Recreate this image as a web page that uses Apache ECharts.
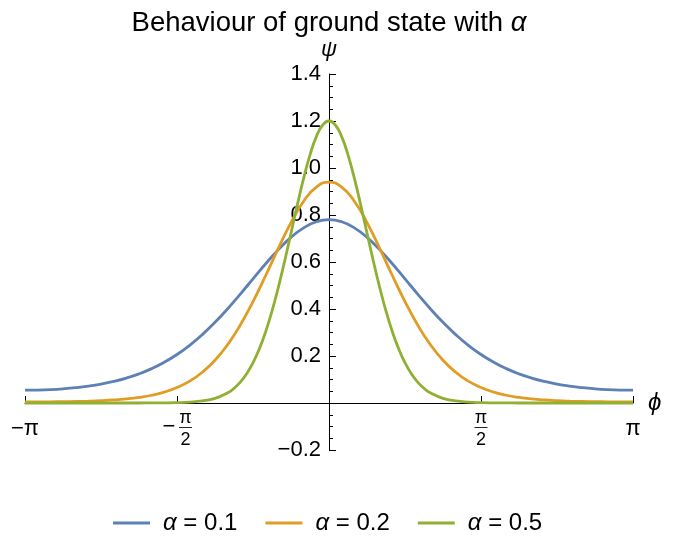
<!DOCTYPE html>
<html><head><meta charset="utf-8">
<script src="https://cdn.jsdelivr.net/npm/echarts@6/dist/echarts.min.js"></script>
<style>html,body{margin:0;padding:0;background:#fff}#c{width:674px;height:536px}</style>
</head><body><div id="c"></div>
<script>
const FONT = '"Liberation Sans", Arial, sans-serif';

// phi samples (radians) for alpha = 0.1 and 0.2
const phi = [-3.1416, -3.0107, -2.8798, -2.7489, -2.6180, -2.4871, -2.3562, -2.2253, -2.0944, -1.9635,
  -1.8326, -1.7017, -1.5708, -1.4399, -1.3090, -1.1781, -1.0472, -0.9163, -0.7854, -0.6545,
  -0.5236, -0.3927, -0.2618, -0.1309, 0, 0.1309, 0.2618, 0.3927, 0.5236, 0.6545,
  0.7854, 0.9163, 1.0472, 1.1781, 1.3090, 1.4399, 1.5708, 1.7017, 1.8326, 1.9635,
  2.0944, 2.2253, 2.3562, 2.4871, 2.6180, 2.7489, 2.8798, 3.0107, 3.1416];

const psiAlpha01 = [0.0546, 0.0552, 0.0571, 0.0604, 0.0652, 0.0718, 0.0805, 0.0918, 0.1061, 0.1240,
  0.1462, 0.1734, 0.2063, 0.2454, 0.2911, 0.3432, 0.4011, 0.4636, 0.5283, 0.5926,
  0.6527, 0.7049, 0.7454, 0.7712, 0.7800, 0.7712, 0.7454, 0.7049, 0.6527, 0.5926,
  0.5283, 0.4636, 0.4011, 0.3432, 0.2911, 0.2454, 0.2063, 0.1734, 0.1462, 0.1240,
  0.1061, 0.0918, 0.0805, 0.0718, 0.0652, 0.0604, 0.0571, 0.0552, 0.0546];

const psiAlpha02 = [0.0046, 0.0047, 0.0050, 0.0056, 0.0066, 0.0080, 0.0100, 0.0130, 0.0174, 0.0238,
  0.0330, 0.0465, 0.0658, 0.0930, 0.1309, 0.1820, 0.2486, 0.3320, 0.4313, 0.5425,
  0.6582, 0.7677, 0.8586, 0.9188, 0.9400, 0.9188, 0.8586, 0.7677, 0.6582, 0.5425,
  0.4313, 0.3320, 0.2486, 0.1820, 0.1309, 0.0930, 0.0658, 0.0465, 0.0330, 0.0238,
  0.0174, 0.0130, 0.0100, 0.0080, 0.0066, 0.0056, 0.0050, 0.0047, 0.0046];

// finer phi samples near the narrow alpha = 0.5 peak
const phiAlpha05 = [-3.1416, -3.0107, -2.8798, -2.7489, -2.6180, -2.4871, -2.3562, -2.2253, -2.0944, -1.9635,
  -1.8326, -1.7017, -1.5708, -1.4399, -1.3090, -1.1781, -1.0472, -0.9818, -0.9163, -0.8509,
  -0.7854, -0.7199, -0.6545, -0.5890, -0.5236, -0.4581, -0.3927, -0.3272, -0.2618, -0.1963,
  -0.1309, -0.0654, 0, 0.0654, 0.1309, 0.1963, 0.2618, 0.3272, 0.3927, 0.4581,
  0.5236, 0.5890, 0.6545, 0.7199, 0.7854, 0.8509, 0.9163, 0.9818, 1.0472, 1.1781,
  1.3090, 1.4399, 1.5708, 1.7017, 1.8326, 1.9635, 2.0944, 2.2253, 2.3562, 2.4871,
  2.6180, 2.7489, 2.8798, 3.0107, 3.1416];

const psiAlpha05 = [0.0000, 0.0000, 0.0000, 0.0000, 0.0000, 0.0000, 0.0000, 0.0000, 0.0000, 0.0001,
  0.0003, 0.0007, 0.0016, 0.0037, 0.0087, 0.0198, 0.0432, 0.0625, 0.0890, 0.1246,
  0.1711, 0.2304, 0.3036, 0.3913, 0.4924, 0.6044, 0.7233, 0.8432, 0.9567, 1.0561,
  1.1336, 1.1830, 1.2000, 1.1830, 1.1336, 1.0561, 0.9567, 0.8432, 0.7233, 0.6044,
  0.4924, 0.3913, 0.3036, 0.2304, 0.1711, 0.1246, 0.0890, 0.0625, 0.0432, 0.0198,
  0.0087, 0.0037, 0.0016, 0.0007, 0.0003, 0.0001, 0.0000, 0.0000, 0.0000, 0.0000,
  0.0000, 0.0000, 0.0000, 0.0000, 0.0000];

const seriesNames = ['α = 0.1', 'α = 0.2', 'α = 0.5'];
const colors = ['#5E81B5', '#E19C24', '#8FB032'];

const xTickValues = [-Math.PI, -Math.PI / 2, Math.PI / 2, Math.PI];
const xTickLabels = ['{big|−π}', '{sp| }{n|π}\n{m|−}{g| }{bar|—}\n{sp| }{d|2}', '{n|π}\n{bar|—}\n{d|2}', '{big|π}'];

const yMin = -0.2, yMax = 1.4, yStep = 0.2;

const chart = echarts.init(document.getElementById('c'), null, {renderer: 'canvas'});

const pairs = (xs, ys) => xs.map((x, i) => [x, ys[i]]);

chart.setOption({
  backgroundColor: '#fff',
  animation: false,
  title: {
    text: 'Behaviour of ground state with {a|α}',
    left: 324, textAlign: 'center', top: 4,
    textStyle: {
      fontFamily: FONT, fontSize: 27.5, fontWeight: 'normal', color: '#000',
      rich: {a: {fontFamily: FONT, fontSize: 27.5, fontStyle: 'italic', color: '#000'}}
    }
  },
  legend: {
    left: 113, top: 511, padding: 0,
    itemWidth: 37, itemHeight: 3, itemGap: 28,
    icon: 'rect',
    data: seriesNames,
    formatter: name => '{i|α}' + name.slice(1),
    textStyle: {
      fontFamily: FONT, fontSize: 24, color: '#000', padding: [0, 0, 0, 8],
      rich: {i: {fontFamily: FONT, fontSize: 24, fontStyle: 'italic', color: '#000'}}
    }
  },
  grid: {left: 25, right: 41, top: 74, bottom: 86, containLabel: false, outerBoundsMode: 'none'},
  xAxis: {
    type: 'value', min: -Math.PI, max: Math.PI,
    name: 'ϕ', nameLocation: 'end', nameGap: 15,
    nameTextStyle: {fontFamily: FONT, fontSize: 24, fontStyle: 'italic', color: '#000', padding: [6, 0, 0, 0]},
    axisLine: {onZero: false, lineStyle: {color: '#000', width: 1}},
    axisTick: {show: true, inside: true, length: 7, customValues: xTickValues, lineStyle: {color: '#000'}},
    axisLabel: {
      show: true, margin: 8, customValues: xTickValues,
      formatter: v => {
        let best = 0;
        xTickValues.forEach((t, i) => { if (Math.abs(t - v) < Math.abs(xTickValues[best] - v)) best = i; });
        return xTickLabels[best];
      },
      color: '#000',
      rich: {
        big: {fontFamily: FONT, fontSize: 22, lineHeight: 36, color: '#000'},
        n: {fontFamily: FONT, fontSize: 18, width: 12, lineHeight: 14, color: '#000'},
        d: {fontFamily: FONT, fontSize: 18, width: 12, lineHeight: 22, color: '#000'},
        sp: {fontFamily: FONT, fontSize: 8, width: 17, lineHeight: 14},
        m: {fontFamily: FONT, fontSize: 22, width: 13, lineHeight: 4, color: '#000'},
        g: {fontFamily: FONT, fontSize: 4, width: 4, lineHeight: 4},
        bar: {fontFamily: FONT, fontSize: 13, width: 12, lineHeight: 4, color: '#000'}
      }
    },
    splitLine: {show: false}
  },
  yAxis: {
    type: 'value', min: yMin, max: yMax, interval: yStep,
    name: 'ψ', nameLocation: 'end', nameGap: 13,
    nameTextStyle: {fontFamily: FONT, fontSize: 22, fontStyle: 'italic', color: '#000', align: 'center'},
    axisLine: {show: true, onZero: false, lineStyle: {color: '#000', width: 1}},
    axisTick: {show: true, inside: true, length: 7, lineStyle: {color: '#000'}},
    minorTick: {show: true, splitNumber: 4, length: 4, lineStyle: {color: '#000'}},
    axisLabel: {
      margin: 8, fontFamily: FONT, fontSize: 22, color: '#000',
      formatter: v => Math.abs(v) < 1e-9 ? '' : (v < 0 ? '−' : '') + Math.abs(v).toFixed(1)
    },
    splitLine: {show: false}
  },
  series: [
    {name: seriesNames[0], type: 'line', data: pairs(phi, psiAlpha01), showSymbol: false, smooth: true,
     lineStyle: {color: colors[0], width: 2.8}, itemStyle: {color: colors[0]}},
    {name: seriesNames[1], type: 'line', data: pairs(phi, psiAlpha02), showSymbol: false, smooth: true,
     lineStyle: {color: colors[1], width: 2.8}, itemStyle: {color: colors[1]}},
    {name: seriesNames[2], type: 'line', data: pairs(phiAlpha05, psiAlpha05), showSymbol: false, smooth: true,
     lineStyle: {color: colors[2], width: 2.8}, itemStyle: {color: colors[2]}}
  ]
});

// Move both axes (line, ticks, labels) to cross at the origin, using the library's own scales.
const yZeroPx = chart.convertToPixel({yAxisIndex: 0}, 0);
const yBottomPx = chart.convertToPixel({yAxisIndex: 0}, yMin);
const xZeroPx = chart.convertToPixel({xAxisIndex: 0}, 0);
const xLeftPx = chart.convertToPixel({xAxisIndex: 0}, -Math.PI);
chart.setOption({
  xAxis: {offset: -(yBottomPx - yZeroPx)},
  yAxis: {offset: -(xZeroPx - xLeftPx)}
});
</script>
</body></html>
